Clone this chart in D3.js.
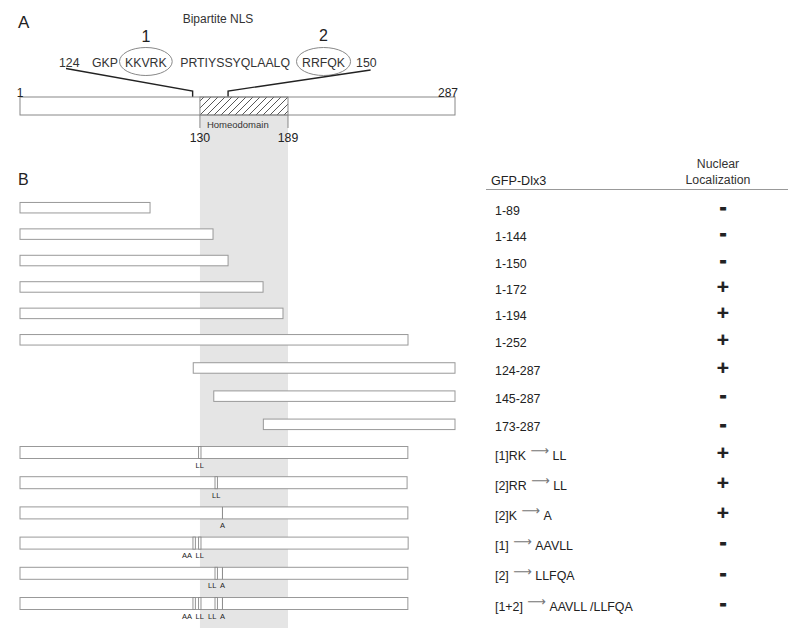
<!DOCTYPE html>
<html><head><meta charset="utf-8">
<script src="https://cdn.jsdelivr.net/npm/d3@7"></script>
<style>
body{margin:0;background:#fff}
text{font-family:"Liberation Sans",Arial,Helvetica,sans-serif;fill:#222}
</style>
</head><body>
<svg id="chart" width="800" height="634"></svg>
<script>
// ---------------- DATA ----------------
// Schematic (not to scale) ruler: positions are read from the drawing, in ruler units 1..287
const rulerDomain = [1, 287];
const proteinEndLabels = ["1", "287"];
const homeodomainDrawn = [119.3, 177.2];
const homeodomainTicks = ["130", "189"];
const homeodomainName = "Homeodomain";
const nlsTitle = "Bipartite NLS";
const nlsTokens = ["124", "GKP", "KKVRK", "PRTIYSSYQLAALQ", "RRFQK", "150"];
const nlsBoxed = [false, false, true, false, true, false];
const nlsClusterNames = ["1", "2"];
const nlsDrawn = [114.5, 137.8];

const constructLabels = ["1-89", "1-144", "1-150", "1-172", "1-194", "1-252",
  "124-287", "145-287", "173-287",
  "[1]RK → LL", "[2]RR → LL", "[2]K → A", "[1] → AAVLL", "[2] → LLFQA", "[1+2] → AAVLL /LLFQA"];
const constructStart = [1, 1, 1, 1, 1, 1, 114.9, 128.4, 161.0, 1, 1, 1, 1, 1, 1];
const constructEnd = [86.5, 127.9, 137.8, 160.8, 173.9, 256.1, 287, 287, 287, 256, 255.5, 256, 256.2, 256, 256];
const nuclearLocalization = ["-", "-", "-", "+", "+", "+", "+", "-", "-", "+", "+", "+", "-", "-", "-"];
const mutationPos = [[], [], [], [], [], [], [], [], [],
  [119.2], [130.0], [134.1], [115.5, 119.2], [130.0, 134.1], [115.5, 119.2, 130.0, 134.1]];
const mutationLabel = [[], [], [], [], [], [], [], [], [],
  ["LL"], ["LL"], ["A"], ["AA", "LL"], ["LL", "A"], ["AA", "LL", "LL", "A"]];
const tableHeader = ["GFP-Dlx3", "Nuclear", "Localization"];

// ---------------- DRAW ----------------
const svg = d3.select("#chart");
const x = d3.scaleLinear().domain(rulerDomain).range([20, 455]);
const rowY = d3.scaleLinear().domain([0, 5, 9, 14]).range([207.7, 339.8, 452.5, 603.5]);
const barH = i => i < 9 ? 10.5 : 12;

const defs = svg.append("defs");
const pat = defs.append("pattern").attr("id", "hatch").attr("patternUnits", "userSpaceOnUse")
  .attr("width", 7).attr("height", 7);
pat.append("path").attr("d", "M-1,1 l2,-2 M0,7 l7,-7 M6,8 l2,-2")
  .attr("stroke", "#444").attr("stroke-width", 0.9);

// grey homeodomain band
const topBarY = 97, topBarH = 18;
svg.append("rect").attr("x", x(homeodomainDrawn[0])).attr("y", topBarY + topBarH)
  .attr("width", x(homeodomainDrawn[1]) - x(homeodomainDrawn[0]))
  .attr("height", 628 - topBarY - topBarH).attr("fill", "#e5e5e5");

// Panel labels
svg.append("text").attr("x", 18).attr("y", 28).attr("font-size", 17).text("A");
svg.append("text").attr("x", 18).attr("y", 185).attr("font-size", 16).text("B");

// NLS title
svg.append("text").attr("x", 218).attr("y", 23).attr("text-anchor", "middle")
  .attr("font-size", 12).style("fill", "#333").text(nlsTitle);

// Sequence tokens (flow layout)
const seqBase = 67;
const gaps = [12.5, 7, 13.5, 12, 11];
let cx = 59;
const tokenBoxes = [];
nlsTokens.forEach((t, i) => {
  const el = svg.append("text").attr("x", cx).attr("y", seqBase).attr("font-size", 12.3)
    .style("fill", "#333").text(t);
  const w = el.node().getComputedTextLength();
  tokenBoxes.push({x0: cx, x1: cx + w});
  cx += w + (i < gaps.length ? gaps[i] : 0);
});
let clusterIdx = 0;
nlsTokens.forEach((t, i) => {
  if (!nlsBoxed[i]) return;
  const b = tokenBoxes[i];
  const ecx = (b.x0 + b.x1) / 2;
  svg.append("ellipse").attr("cx", ecx).attr("cy", seqBase - 5.5)
    .attr("rx", (b.x1 - b.x0) / 2 + 5.5).attr("ry", 14)
    .attr("fill", "none").attr("stroke", "#888").attr("stroke-width", 1);
  svg.append("text").attr("x", ecx).attr("y", clusterIdx === 0 ? 42 : 40.5)
    .attr("text-anchor", "middle").attr("font-size", 16).text(nlsClusterNames[clusterIdx]);
  clusterIdx++;
});

// connector lines
const first = tokenBoxes[0], last = tokenBoxes[tokenBoxes.length - 1];
const connY = 91;
svg.append("path")
  .attr("d", `M${first.x0 + 7},${seqBase + 1.5} L${x(nlsDrawn[0])},${connY} L${x(nlsDrawn[0])},${topBarY}`)
  .attr("fill", "none").attr("stroke", "#222").attr("stroke-width", 1.4);
svg.append("path")
  .attr("d", `M${last.x1 - 6},${seqBase + 3} L${x(nlsDrawn[1])},${connY} L${x(nlsDrawn[1])},${topBarY}`)
  .attr("fill", "none").attr("stroke", "#222").attr("stroke-width", 1.4);

// main protein bar
svg.append("rect").attr("x", x(rulerDomain[0])).attr("y", topBarY)
  .attr("width", x(rulerDomain[1]) - x(rulerDomain[0])).attr("height", topBarH)
  .attr("fill", "#fff").attr("stroke", "#888").attr("stroke-width", 1);
svg.append("rect").attr("x", x(homeodomainDrawn[0])).attr("y", topBarY)
  .attr("width", x(homeodomainDrawn[1]) - x(homeodomainDrawn[0])).attr("height", topBarH)
  .attr("fill", "url(#hatch)").attr("stroke", "#888").attr("stroke-width", 1);
svg.append("text").attr("x", x(rulerDomain[0])).attr("y", topBarY).attr("text-anchor", "middle")
  .attr("font-size", 12).text(proteinEndLabels[0]);
svg.append("text").attr("x", x(rulerDomain[1]) + 3).attr("y", topBarY).attr("text-anchor", "end")
  .attr("font-size", 12).text(proteinEndLabels[1]);

// homeodomain ticks & labels
homeodomainDrawn.forEach((d, i) => {
  svg.append("line").attr("x1", x(d)).attr("x2", x(d)).attr("y1", topBarY + topBarH).attr("y2", 128)
    .attr("stroke", "#888").attr("stroke-width", 1);
  svg.append("text").attr("x", x(d)).attr("y", 141.5).attr("text-anchor", "middle")
    .attr("font-size", 12.3).text(homeodomainTicks[i]);
});
svg.append("text").attr("x", x(homeodomainDrawn[0]) + 7).attr("y", 128).attr("font-size", 9.5)
  .style("fill", "#333").text(homeodomainName);

// Table header
svg.append("text").attr("x", 491).attr("y", 185).attr("font-size", 12.6).text(tableHeader[0]);
svg.append("text").attr("x", 718).attr("y", 168).attr("text-anchor", "middle").attr("font-size", 12.3)
  .style("fill", "#333").text(tableHeader[1]);
svg.append("text").attr("x", 718).attr("y", 184).attr("text-anchor", "middle").attr("font-size", 12.3)
  .style("fill", "#333").text(tableHeader[2]);
svg.append("line").attr("x1", 486).attr("x2", 788).attr("y1", 189.5).attr("y2", 189.5)
  .attr("stroke", "#999").attr("stroke-width", 1);

// construct bars
const rows = svg.append("g").selectAll("g").data(constructLabels).join("g");
rows.append("rect")
  .attr("x", (d, i) => x(constructStart[i]))
  .attr("y", (d, i) => rowY(i) - barH(i) / 2)
  .attr("width", (d, i) => x(constructEnd[i]) - x(constructStart[i]))
  .attr("height", (d, i) => barH(i))
  .attr("fill", "#fff").attr("stroke", "#999").attr("stroke-width", 1);

// mutation marks
constructLabels.forEach((lab, i) => {
  const ps = mutationPos[i];
  if (!ps.length) return;
  const y0 = rowY(i) - barH(i) / 2, y1 = rowY(i) + barH(i) / 2;
  const texts = [];
  ps.forEach((p, j) => {
    const double = mutationLabel[i][j].length > 1;
    if (double) {
      svg.append("rect").attr("x", x(p) - 1.2).attr("y", y0).attr("width", 2.4).attr("height", y1 - y0)
        .attr("fill", "#fff").attr("stroke", "#888").attr("stroke-width", 0.9);
    } else {
      svg.append("line").attr("x1", x(p)).attr("x2", x(p)).attr("y1", y0).attr("y2", y1)
        .attr("stroke", "#888").attr("stroke-width", 1);
    }
    const t = svg.append("text").attr("x", x(p)).attr("y", y1 + 9).attr("text-anchor", "middle")
      .attr("font-size", 7.5)
      .style("font-family", '"Liberation Sans Narrow","Arial Narrow","Liberation Sans",sans-serif')
      .style("fill", "#222").text(mutationLabel[i][j]);
    texts.push(t);
  });
  for (let k = texts.length - 2; k >= 0; k--) {
    const a = texts[k].node().getBBox(), b = texts[k + 1].node().getBBox();
    const ov = a.x + a.width + 3.5 - b.x;
    if (ov > 0) texts[k].attr("x", +texts[k].attr("x") - ov);
  }
});

// row labels with raised arrows
rows.append("text")
  .attr("x", 495).attr("y", (d, i) => rowY(i) + 7).attr("font-size", 12.4)
  .each(function (d) {
    const el = d3.select(this);
    const parts = d.split("→");
    el.append("tspan").text(parts[0].replace(/ $/, "\u00a0"));
    if (parts.length > 1) {
      el.append("tspan").attr("dx", 1).attr("dy", -4.5).attr("font-size", 13)
        .style("font-family", '"DejaVu Sans",sans-serif')
        .style("fill", "#777").text("⟶");
      el.append("tspan").attr("dy", 4.5).text(parts[1].replace(/^ /, "\u00a0"));
    }
  });

// localization signs
rows.append("text")
  .attr("x", 723)
  .attr("y", (d, i) => rowY(i) + (nuclearLocalization[i] === "+" ? 7 : 6.2))
  .attr("text-anchor", "middle")
  .attr("font-weight", "bold")
  .attr("font-size", (d, i) => nuclearLocalization[i] === "+" ? 21 : 20)
  .style("stroke", "#222")
  .style("stroke-width", (d, i) => nuclearLocalization[i] === "+" ? 0.2 : 0.9)
  .text((d, i) => nuclearLocalization[i]);
</script>
</body></html>
